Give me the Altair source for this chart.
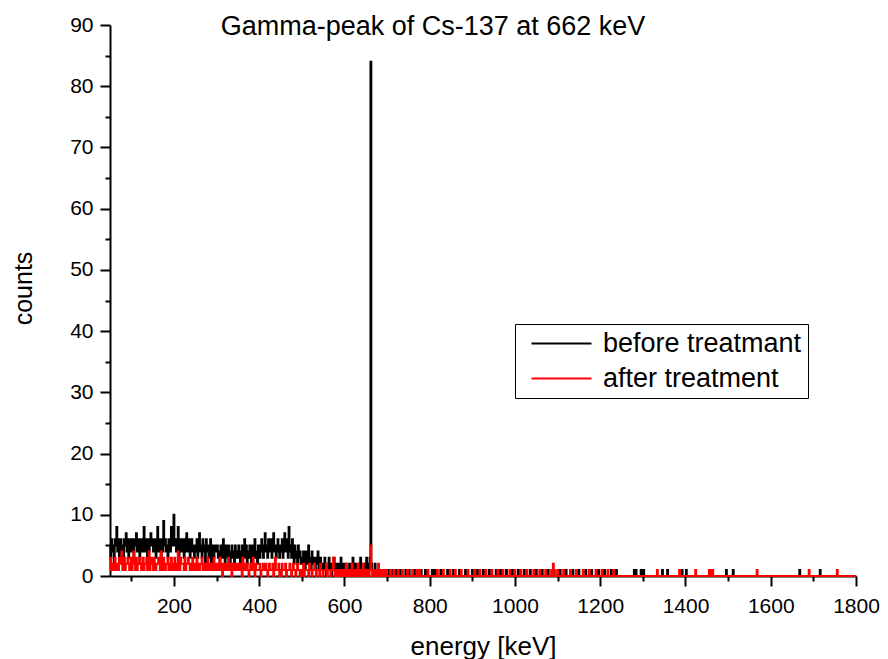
import altair as alt
import pandas as pd

# ---- data: counts per 2 keV channel, 50..698 keV (25 channels per 50 keV block)
black_blocks = [
    [5,3,6,4,5,2,6,5,8,4,6,3,5,6,4,5,2,6,5,7,4,6,3,5,6],
    [4,6,5,3,6,5,7,4,5,6,2,5,6,4,5,8,4,6,5,3,6,4,5,7,5],
    [6,4,5,6,3,5,8,4,6,5,3,6,4,9,5,6,4,5,3,6,5,4,8,6,5],
    [10,5,6,4,5,8,3,6,5,4,6,5,3,6,4,7,5,4,6,3,5,6,4,5,3],
    [5,4,6,3,5,7,4,5,3,6,4,5,2,6,4,5,3,4,6,2,5,4,3,5,4],
    [4,5,3,4,2,5,4,3,6,4,2,5,3,4,5,3,2,4,5,3,4,2,5,3,4],
    [3,5,4,2,4,5,3,4,6,3,5,2,4,3,5,4,2,5,3,4,6,3,4,2,5],
    [4,3,5,6,4,3,5,7,4,5,3,6,4,5,6,3,4,7,5,4,3,5,6,4,3],
    [5,4,6,3,5,7,4,5,6,3,8,4,5,3,6,4,2,5,3,4,2,5,3,4,2],
    [3,2,4,3,1,4,2,3,5,2,3,1,4,2,3,2,1,3,2,4,1,2,3,1,2],
    [2,1,3,2,0,2,1,3,1,2,0,1,2,3,1,0,2,1,2,0,1,3,1,0,2],
    [1,0,2,1,0,1,2,1,0,1,3,0,1,2,1,0,1,2,1,3,2,1,0,2,1],
    [1,3,1,2,1,3,84,2,1,0,1,2,0,1,0,1,0,0,1,0,1,0,0,1,0],
]
red_blocks = [
    [1,3,2,1,2,1,3,2,1,2,1,3,2,2,4,1,2,3,1,2,2,3,2,1,2],
    [3,1,2,4,2,1,3,1,2,2,3,2,1,2,3,1,2,2,3,1,2,4,1,2,3],
    [2,1,3,2,1,2,2,3,2,1,4,2,1,3,2,1,2,2,3,1,2,1,3,2,1],
    [2,3,1,2,1,4,2,1,3,2,2,2,1,3,1,2,2,3,2,1,1,2,3,1,2],
    [1,2,3,1,2,1,2,2,3,1,1,2,1,2,1,3,1,2,2,1,2,1,3,1,2],
    [1,2,1,1,3,1,2,0,1,2,1,1,2,1,3,1,1,2,0,1,2,1,1,2,1],
    [2,1,1,2,1,0,3,1,2,1,1,2,1,0,1,2,1,1,3,1,0,2,1,1,1],
    [1,2,0,1,1,2,1,1,2,1,0,1,2,1,1,1,2,0,1,3,1,1,1,2,0],
    [1,0,2,1,1,1,2,0,1,1,1,2,1,0,1,2,1,1,0,1,2,1,1,0,1],
    [0,1,2,0,1,1,1,1,0,2,1,1,0,1,1,2,1,0,1,1,1,0,2,1,1],
    [0,1,1,1,2,0,1,1,1,0,1,1,3,1,0,1,1,0,1,0,1,1,0,1,0],
    [1,0,2,0,1,0,1,0,0,2,0,1,0,1,0,0,2,1,0,1,0,1,2,0,1],
    [0,1,0,1,0,1,5,1,0,1,0,0,1,0,0,2,0,0,1,0,0,1,0,0,1],
]
# single counts above 700 keV (energy in keV)
black_hits = [704, 712, 722, 730, 744, 752, 766, 780, 790, 806, 812, 826, 842, 856, 870,
              884, 900, 912, 926, 940, 956, 966, 980, 994, 1008, 1022, 1036, 1050, 1064,
              1078, 1092, 1106, 1120, 1136, 1150, 1166, 1180, 1196, 1210, 1226, 1238, 1280,
              1284, 1296, 1302, 1346, 1358, 1392, 1402, 1496, 1512, 1668, 1716]
red_hits = [708, 716, 726, 736, 748, 760, 770, 776, 796, 818, 832, 848, 860, 874, 890, 906,
            918, 932, 946, 960, 972, 988, 1000, 1014, 1028, 1044, 1058, 1072, 1086, 1100,
            1114, 1130, 1144, 1160, 1174, 1190, 1204, 1218, 1232, 1334, 1386, 1424, 1456,
            1460, 1464, 1568, 1690, 1756]
red_double = [1090]

series_names = ["before treatmant", "after treatment"]
series_colors = ["black", "red"]

E_START, E_END, STEP = 50, 1800, 2


def build(blocks, hits, doubles, name):
    energies = list(range(E_START, E_END + 1, STEP))
    counts = {e: 0 for e in energies}
    e = E_START
    for blk in blocks:
        for v in blk:
            counts[e] = v
            e += STEP
    for h in hits:
        counts[h] = 1
    for h in doubles:
        counts[h] = 2
    return pd.DataFrame({"energy": energies,
                         "counts": [counts[x] for x in energies],
                         "series": name})


df_black = build(black_blocks, black_hits, [], series_names[0])
df_red = build(red_blocks, red_hits, red_double, series_names[1])

FONT = "Liberation Sans"

x_enc = alt.X("energy:Q",
              scale=alt.Scale(domain=[50, 1800], nice=False, zero=False),
              axis=alt.Axis(values=list(range(100, 1801, 100)),
                            labelExpr="datum.value % 200 === 0 ? datum.label : ''",
                            tickSize={"condition": {"test": "datum.value % 200 === 0", "value": 10}, "value": 5},
                            title="energy [keV]", grid=False, format="d",
                            labelFlush=False, labelOverlap=False,
                            labelPadding=9, titleY=78, titleBaseline="alphabetic"))
y_enc = alt.Y("counts:Q",
              scale=alt.Scale(domain=[0, 90], nice=False),
              axis=alt.Axis(values=list(range(0, 91, 5)),
                            labelExpr="datum.value % 10 === 0 ? datum.label : ''",
                            tickSize={"condition": {"test": "datum.value % 10 === 0", "value": 10}, "value": 5},
                            title="counts", grid=False, labelOverlap=False, labelPadding=7,
                            titleFontSize=25,
                            titleX=-87, titleY=263, titleBaseline="middle"))
color_enc = alt.Color("series:N",
                      scale=alt.Scale(domain=series_names, range=series_colors),
                      legend=alt.Legend(title=None, orient="none", legendX=405, legendY=299,
                                        strokeColor="black", fillColor="white", padding=6,
                                        symbolType="M-1,0H5", symbolSize=400, symbolStrokeWidth=2,
                                        symbolOffset=7, labelOffset=48, rowPadding=7,
                                        labelLimit=400,
                                        labelFont=FONT, labelFontSize=27))

black_line = alt.Chart(df_black).mark_line(strokeWidth=2, interpolate="step").encode(
    x=x_enc, y=y_enc, color=color_enc)
red_line = alt.Chart(df_red).mark_line(strokeWidth=2, interpolate="step").encode(
    x=x_enc, y=y_enc, color=color_enc)

chart = alt.layer(black_line, red_line).properties(
    width=746, height=551,
    autosize=alt.AutoSizeParams(type="none"),
    padding={"left": 102, "top": 17, "right": 24, "bottom": 85},
    title=alt.TitleParams("Gamma-peak of Cs-137 at 662 keV", font=FONT, fontSize=27,
                          fontWeight="normal", anchor="middle", dx=-50, offset=-27,
                          color="black"),
).configure_view(stroke=None).configure_axis(
    domainColor="black", domainWidth=2, tickColor="black", tickWidth=2,
    labelFont=FONT, labelFontSize=21, labelColor="black",
    titleFont=FONT, titleFontSize=26, titleFontWeight="normal", titleColor="black",
)

chart.save("out.html", embed_options={"renderer": "svg", "actions": False})
